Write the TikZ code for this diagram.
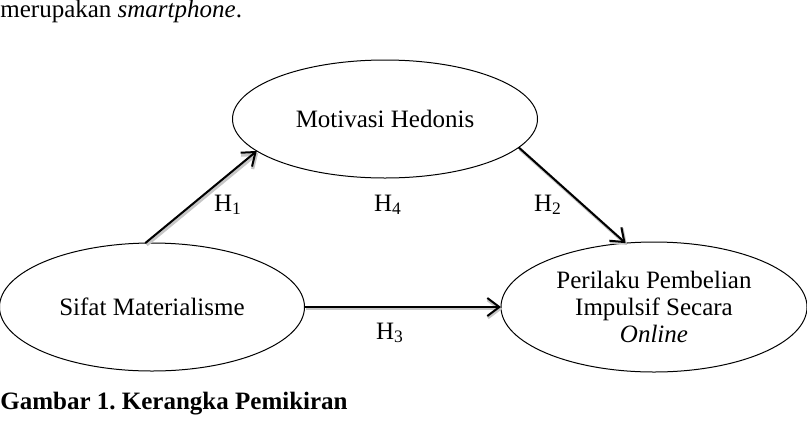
\documentclass[tikz,border=0pt]{standalone}
\usepackage{fontspec}
\setmainfont{Liberation Serif}
\usetikzlibrary{arrows.meta,shapes.geometric}

\tikzset{
  var/.style={ellipse,draw=black,line width=0.5pt,inner sep=0pt,outer sep=0pt,align=center},
  hyp/.style={-{Straight Barb[length=6pt,width=9pt]},line width=1pt,
    preaction={draw=gray!45,line width=1.6pt,transform canvas={shift={(0.7pt,-0.9pt)}}}}
}

\begin{document}
\begin{tikzpicture}[x=0.5pt,y=-0.5pt,font=\fontsize{12.5}{13.4}\selectfont]
\useasboundingbox (0,0) rectangle (807,429);

\node[anchor=base west,inner sep=0pt] (txt) at (0,17) {merupakan \textit{smartphone}.};

\node[var,minimum width=152.5pt,minimum height=59pt] (MH) at (385,119) {Motivasi Hedonis};
\node[var,minimum width=152.5pt,minimum height=64pt] (SM) at (152,307) {Sifat Materialisme};
\node[var,minimum width=153pt,minimum height=65pt] (PP) at (654,307)
  {Perilaku Pembelian\\Impulsif Secara\\\textit{Online}};

\draw[hyp] (SM.96) -- (MH.194);
\draw[hyp] (MH.-12) -- (PP.114);
\draw[hyp] (SM.east) -- (PP.west);

\node (H1) at (228,205) {H\textsubscript{1}};
\node (H4) at (388,205) {H\textsubscript{4}};
\node (H2) at (548,205) {H\textsubscript{2}};
\node (H3) at (390,333) {H\textsubscript{3}};

\node[anchor=base west,inner sep=0pt,font=\fontsize{12.5}{13.4}\selectfont\bfseries] (cap) at (0,409)
  {Gambar 1.\ Kerangka Pemikiran};

\end{tikzpicture}
\end{document}
